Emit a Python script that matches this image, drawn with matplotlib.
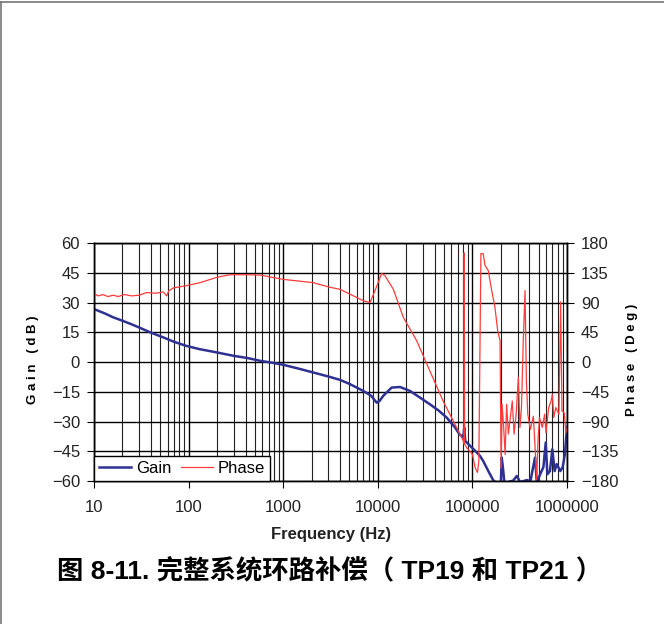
import matplotlib
matplotlib.use("Agg")
import matplotlib.pyplot as plt
from matplotlib.lines import Line2D
from matplotlib.ticker import FixedLocator, FuncFormatter, NullFormatter

# gain trace (Hz, dB)
gain_freq = [10, 13, 16, 20, 25, 30, 40, 54, 70, 95, 130, 200, 300, 420, 570,
             750, 1000, 1500, 2080, 3000, 3980, 5000, 7030, 8500, 9730, 10500,
             11400, 14000, 17200, 21900, 28000, 35500, 44000, 53400, 65500,
             73000, 80000, 82000, 84000, 90600, 107000, 120000, 130000,
             147000, 166000, 180000, 200000, 204000, 210000, 218000, 240000,
             270000, 294000, 320000, 380000, 410000, 430000, 459000, 480000,
             520000, 563000, 596000, 620000, 660000, 700000, 740000, 778000,
             850000, 900000, 950000, 1000000]
gain_db = [26.7, 24.5, 22.5, 20.8, 19.0, 17.4, 14.8, 12.4, 10.2, 8.1, 6.5, 4.8,
           3.1, 2.0, 0.6, -0.3, -1.4, -3.5, -5.3, -7.3, -9.0, -11.0, -14.6,
           -17.0, -20.5, -19.5, -17.1, -12.9, -12.6, -14.6, -18.0, -21.3,
           -24.5, -28.0, -33.0, -36.4, -38.0, -33.0, -39.8, -41.4, -44.8,
           -47.3, -49.9, -54.9, -59.6, -61.0, -61.0, -48.2, -53.0, -61.0,
           -60.5, -59.8, -57.5, -60.5, -59.5, -60.5, -55.0, -48.2, -61.0,
           -56.6, -53.0, -40.6, -56.6, -55.0, -44.0, -55.0, -51.5, -55.0,
           -53.0, -46.5, -33.0]

# phase trace (Hz, deg)
phase_freq = [10, 11, 12.5, 14, 16, 18, 21, 25, 30, 36, 45, 54, 58.6, 62, 69,
              95, 132, 198, 273, 400, 569, 1000, 2080, 3125, 3980, 4700, 7030,
              8280, 9340, 11000, 11900, 14600, 18600, 25800, 35500, 49000,
              68000, 80000, 81500, 82000, 82700, 87000, 100000, 107000,
              113000, 117000, 123000, 130000, 136000, 147000, 160000, 173000,
              185000, 196000, 201000, 206000, 214000, 222000, 230000, 240000,
              264000, 276000, 290000, 306000, 318000, 330000, 345000, 360000,
              372000, 385000, 410000, 441000, 460000, 478000, 495000, 512000,
              548000, 580000, 600000, 640000, 678000, 700000, 725000, 760000,
              822000, 857000, 885000, 935000, 975000, 1000000]
phase_deg = [104, 100, 102, 99, 101, 99, 102, 100, 101, 105, 104, 106, 100,
             108, 112, 115.5, 120, 128, 132, 132, 131.5, 125, 120, 113, 110,
             105, 92.6, 90, 108, 134, 130.6, 110, 67.6, 32, -13.5, -59, -99,
             -119, -124, 165, -124, -129.6, -139.5, -160, -167, -150, 164, 164,
             146, 138.5, 108, 83, 47.5, 32, -160, -64, -99, -140, -64, -109,
             -59, -109, -79, -23, -99, -69, 32, 108, -28, -79, -102, -82, -130,
             -178, -116, -84, -99, -79, -107, -69, -59, -49, -84, -69, -79, 91,
             -74, -77, -107, -100]

gain_ticks = [-60, -45, -30, -15, 0, 15, 30, 45, 60]
phase_ticks = [-180, -135, -90, -45, 0, 45, 90, 135, 180]
freq_ticks = [10, 100, 1000, 10000, 100000, 1000000]

GAIN_C = "#2E3192"
PHASE_C = "#FF3B3B"
latin = ["Liberation Sans", "DejaVu Sans"]

fig = plt.figure(figsize=(6.64, 6.24), dpi=100)
ax = fig.add_axes([94 / 664, 1 - 481 / 624, 473 / 664, 238 / 624])
ax2 = ax.twinx()

ax.set_xscale("log")
ax.set_xlim(10, 1e6)
ax.set_ylim(-60, 60)
ax2.set_ylim(-180, 180)

minors = [m * 10 ** e for e in range(1, 6) for m in range(2, 10)]
ax.xaxis.set_major_locator(FixedLocator(freq_ticks))
ax.xaxis.set_minor_locator(FixedLocator(minors))
ax.xaxis.set_major_formatter(FuncFormatter(lambda v, p: f"{int(round(v))}"))
ax.xaxis.set_minor_formatter(NullFormatter())
ax.set_yticks(gain_ticks)
ax2.set_yticks(phase_ticks)

ax.grid(True, which="major", axis="both", color="black", lw=1.0)
ax.grid(True, which="minor", axis="x", color="#222222", lw=0.8)
ax.set_axisbelow(True)

ax.tick_params(axis="x", which="major", direction="out", length=5, pad=9,
               labelsize=12)
ax.tick_params(axis="x", which="minor", length=0)
ax.tick_params(axis="y", direction="out", length=5, pad=5, labelsize=12)
ax2.tick_params(axis="y", direction="out", length=5, pad=5, labelsize=12)
for lab in ax.get_xticklabels() + ax.get_yticklabels() + ax2.get_yticklabels():
    lab.set_family(latin)
    lab.set_color("#222222")

for a in (ax, ax2):
    for s in a.spines.values():
        s.set_color("black")
        s.set_linewidth(1.0)

g_line, = ax.plot(gain_freq, gain_db, color=GAIN_C, lw=1.8, label="Gain")
p_line, = ax2.plot(phase_freq, phase_deg, color=PHASE_C, lw=0.9, label="Phase")

leg = ax2.legend(handles=[g_line, p_line], loc="lower left",
                 bbox_to_anchor=(0, 0), borderaxespad=0, ncol=2,
                 fancybox=False, framealpha=1, edgecolor="black",
                 prop={"family": latin, "size": 12}, handlelength=1.9,
                 columnspacing=0.6, handletextpad=0.3, borderpad=0.3)
leg.get_frame().set_linewidth(1.0)

fig.text(33 / 664, 1 - 360 / 624, "G a i n   ( d B )", rotation=90,
         ha="center", va="center", fontsize=9.5, fontweight="bold",
         family=latin)
fig.text(632 / 664, 1 - 360 / 624, "P h a s e   ( D e g )", rotation=90,
         ha="center", va="center", fontsize=9.5, fontweight="bold",
         family=latin)
fig.text(331 / 664, 1 - 535 / 624, "Frequency (Hz)", ha="center",
         va="center", fontsize=12, fontweight="bold", color="#222222",
         family=latin)
fig.text(330 / 664, 1 - 571 / 624, "图 8-11. 完整系统环路补偿（ TP19 和 TP21 ）",
         ha="center", va="center", fontsize=19, fontweight="bold",
         family=["Liberation Sans", "Noto Sans CJK SC"])

# page border (left and top)
fig.add_artist(Line2D([0.0015, 0.0015], [0, 0.997], transform=fig.transFigure,
                      color="#777777", lw=1.2))
fig.add_artist(Line2D([0, 1], [0.997, 0.997], transform=fig.transFigure,
                      color="#777777", lw=1.2))

fig.savefig("out.png", dpi=100)
